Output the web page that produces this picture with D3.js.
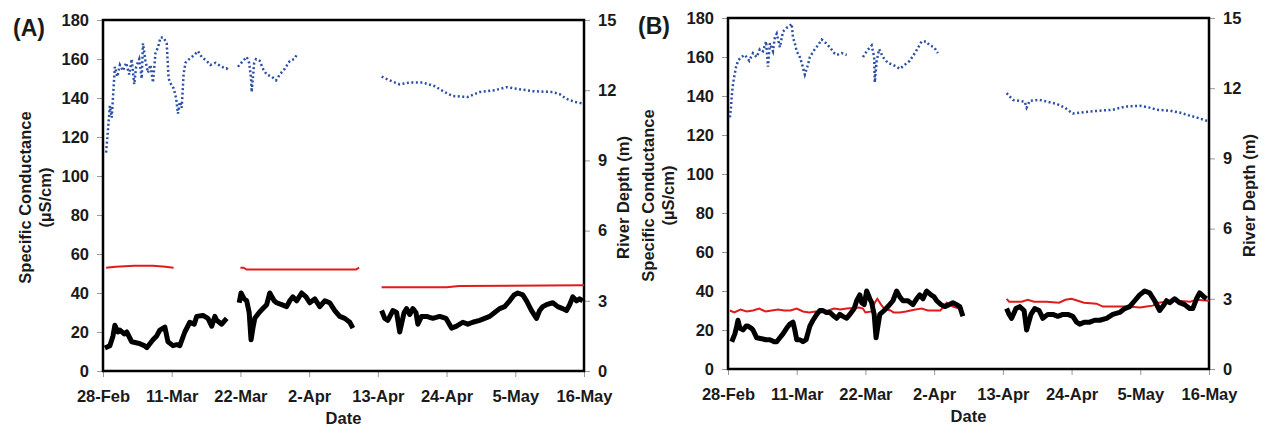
<!DOCTYPE html>
<html>
<head>
<meta charset="utf-8">
<script src="https://cdn.jsdelivr.net/npm/d3@7"></script>
<style>
  body { margin: 0; background: #fff; }
  svg text { font-family: "Liberation Sans", Arial, sans-serif; font-weight: bold; fill: #1a1a1a; }
</style>
</head>
<body>
<svg id="chart" width="1265" height="428"></svg>
<script>
// days counted from 28-Feb, null = gap in the record
const tickLabels = ['28-Feb', '11-Mar', '22-Mar', '2-Apr', '13-Apr', '24-Apr', '5-May', '16-May']
const condTicks = [0, 20, 40, 60, 80, 100, 120, 140, 160, 180]
const depthTicks = [0, 3, 6, 9, 12, 15]

// panel A
const aDepth = [
  [0.5, 9.33], [0.8, 10.33], [1.1, 11.33], [1.4, 10.83], [1.9, 13.0], [2.3, 12.58], [2.7, 13.08], [3.2, 12.83],
  [3.7, 13.17], [4.2, 12.67], [4.6, 13.33], [5.0, 12.25], [5.3, 13.0], [5.8, 13.33], [6.2, 12.5], [6.4, 14.0],
  [6.8, 13.25], [7.2, 12.75], [7.6, 13.08], [8.0, 12.33], [8.4, 13.58], [8.8, 13.83], [9.2, 14.25], [9.7, 14.25],
  [10.2, 14.0], [10.5, 12.5], [10.9, 12.25], [11.3, 12.08], [11.7, 11.67], [12.0, 11.0], [12.3, 11.5], [12.6, 11.25],
  [12.9, 12.67], [13.2, 13.17], [13.8, 13.33], [14.6, 13.5], [15.2, 13.67], [15.8, 13.42], [16.6, 13.25],
  [17.2, 13.08], [18, 13.17], [19, 13.0], [19.8, 12.92], [20, 13.0],
  null,
  [21.6, 13.0], [22.4, 13.25], [23.0, 13.42], [23.4, 13.17], [23.7, 12.5], [23.8, 11.92], [24.2, 13.17],
  [24.5, 13.33], [25.1, 13.25], [25.6, 12.92], [26.2, 12.67], [27.0, 12.58], [27.7, 12.42], [28.3, 12.67],
  [29.1, 12.92], [29.9, 13.25], [30.6, 13.33], [31.0, 13.5],
  null,
  [44.6, 12.58], [45.9, 12.42], [47.5, 12.25], [49.1, 12.33], [51.2, 12.33], [53.1, 12.17], [54.7, 11.92],
  [56, 11.75], [58.4, 11.71], [60.3, 11.92], [62.7, 12.0], [64.6, 12.13], [66.7, 12.04], [68.8, 11.96],
  [72, 11.92], [73.1, 11.83], [74.2, 11.63], [75.5, 11.5], [77, 11.42]
]
const aCondRed = [
  [0.5, 53], [2, 53.5], [5, 54], [8, 54], [10, 53.5], [11.3, 53],
  null,
  [22, 53], [22.5, 53], [23, 52], [40.5, 52], [41, 53],
  null,
  [44.6, 43], [55, 43], [57, 43.6], [77, 44]
]
const aCondBlack = [
  [0.3, 11.8], [1.1, 13], [1.6, 18], [1.9, 23.5], [2.4, 20], [2.7, 21], [3.4, 19], [3.8, 20], [4.6, 15],
  [5.3, 14.5], [5.9, 14], [6.6, 13], [7.0, 12], [7.5, 14], [8.0, 16], [8.6, 18], [9.1, 21], [9.9, 22.5],
  [10.4, 15], [11.2, 13], [11.8, 13.5], [12.3, 13], [13.1, 20], [13.9, 25], [14.6, 24], [15.0, 28],
  [16.0, 28.5], [16.8, 27], [17.4, 23], [17.9, 28], [18.2, 26], [19.0, 24], [19.8, 27],
  null,
  [21.8, 35], [22.1, 40], [22.6, 37], [23.0, 36], [23.4, 30], [23.7, 16], [24.0, 22], [24.3, 27], [25.0, 30],
  [25.6, 32], [26.2, 34], [26.7, 40], [27.4, 36], [27.8, 35], [28.6, 34], [29.4, 33], [29.9, 36], [30.4, 38],
  [31.0, 36], [31.8, 40], [32.5, 38], [33.1, 35], [33.9, 37], [34.7, 33], [35.5, 36], [36.3, 35], [37.1, 31],
  [37.9, 28], [38.7, 27], [39.5, 25], [40.0, 22],
  null,
  [44.6, 31], [45.1, 27], [45.6, 26], [46.4, 31], [47.0, 30], [47.5, 20], [48.2, 30], [48.6, 32], [49.1, 29],
  [49.6, 32], [50.1, 30], [50.4, 24], [51.0, 28], [51.8, 28], [52.8, 27], [53.9, 28], [54.9, 27], [55.8, 22],
  [56.6, 23], [57.6, 25], [58.4, 24], [59.2, 25], [60.3, 26], [61.9, 28], [62.7, 30], [63.5, 32], [64.3, 33],
  [65.1, 36], [65.8, 39], [66.4, 40], [67.2, 39], [67.8, 36], [68.6, 31], [69.4, 27], [69.9, 31], [70.4, 33],
  [71.0, 34], [72.0, 35], [72.8, 33], [73.6, 32], [74.2, 31], [74.7, 34], [75.2, 38], [75.8, 36], [76.3, 37],
  [76.8, 36]
]

// panel B
const bDepth = [
  [0.3, 10.75], [0.5, 11.25], [0.6, 11.67], [0.8, 12.17], [1.0, 12.5], [1.3, 12.92], [1.6, 13.17], [2.1, 13.33],
  [2.7, 13.42], [3.4, 13.17], [4.0, 13.5], [4.6, 13.33], [5.1, 13.67], [5.6, 13.58], [6.1, 14.0], [6.4, 12.92],
  [6.7, 13.92], [7.2, 13.58], [7.5, 14.17], [7.8, 14.33], [8.3, 13.75], [8.8, 14.42], [9.4, 14.58], [9.9, 14.67],
  [10.2, 14.75], [10.4, 14.17], [10.7, 13.92], [11.0, 13.58], [11.5, 13.33], [11.8, 13.08], [12.3, 12.58],
  [12.8, 13.0], [13.1, 13.33], [13.9, 13.67], [14.4, 13.83], [15.0, 14.08], [15.7, 13.92], [16.3, 13.75],
  [17.0, 13.5], [17.4, 13.42], [18.2, 13.5], [19.0, 13.42],
  null,
  [21.6, 13.33], [22.2, 13.58], [23.0, 13.83], [23.4, 13.33], [23.5, 12.25], [23.8, 13.17], [24.2, 13.67],
  [24.8, 13.33], [25.6, 13.08], [26.4, 13.0], [27.5, 12.83], [28.3, 13.0], [29.1, 13.17], [30.1, 13.58],
  [31.0, 14.0], [31.7, 14.0], [32.3, 13.83], [33.0, 13.75], [33.6, 13.5],
  null,
  [44.6, 11.79], [45.6, 11.5], [46.7, 11.46], [47.5, 11.42], [47.8, 11.17], [48.3, 11.46], [49.9, 11.5],
  [51.2, 11.42], [52.6, 11.33], [53.9, 11.17], [55.2, 10.92], [56.6, 10.96], [57.9, 11.0], [59.5, 11.04],
  [61.6, 11.08], [63.5, 11.21], [65.9, 11.25], [67.5, 11.17], [68.6, 11.08], [70.7, 11.04], [72.3, 10.96],
  [73.9, 10.83], [75.0, 10.75], [77, 10.58]
]
const bCondRed = [
  [0.3, 30], [1, 29], [2, 30.5], [3, 29.5], [4, 30], [5, 31], [6, 29.5], [7, 30], [8, 30.5], [9, 30], [10, 30],
  [11, 31], [12, 29.5], [13, 29], [14, 29.5], [15, 29], [16, 30], [17, 31], [18, 30.5], [19, 31], [21, 31.5],
  [21.6, 31], [22, 29], [23, 29.5], [23.5, 34], [23.9, 36], [24.5, 33], [25, 31], [26, 30], [26.5, 29],
  [27.5, 29], [28.5, 29.5], [30, 30.5], [31, 31], [32, 30], [33, 30], [34, 30], [34.5, 32], [35, 34],
  [35.5, 33], [36, 32], [37, 31], [37.6, 31],
  null,
  [44.6, 36], [45, 34.5], [47, 34.5], [48, 35.5], [49, 34.5], [51, 34.5], [53, 34], [54, 35.5], [55, 36],
  [56, 35], [57, 34], [59, 33.5], [60, 32], [62, 32], [64, 32], [66, 31.5], [67, 32], [68, 32.5], [69, 34],
  [70, 34.5], [72, 35], [74, 34.5], [75, 35.5], [77, 35]
]
const bCondBlack = [
  [0.6, 14], [1.1, 18], [1.4, 22], [1.6, 25], [1.9, 21], [2.4, 20], [2.9, 22], [3.2, 22], [3.7, 21], [4.0, 20],
  [4.6, 16], [5.4, 15.5], [6.1, 15], [6.7, 15], [7.4, 14], [7.8, 14], [8.3, 16], [8.8, 18], [9.4, 21], [9.9, 23],
  [10.4, 24], [10.7, 20], [11.0, 15], [11.5, 15], [12.0, 14], [12.5, 15], [13.1, 22], [13.6, 25], [14.2, 28],
  [14.7, 30], [15.2, 30], [15.7, 29], [16.3, 29], [17.0, 27], [17.4, 26], [17.9, 28], [18.4, 27], [19.0, 26],
  [19.5, 28], [20.2, 31], [20.6, 35], [21.1, 38], [21.4, 34], [21.8, 33], [22.2, 40], [22.7, 36], [23.0, 34],
  [23.4, 28], [23.7, 16], [24.0, 22], [24.3, 28], [25.0, 30], [25.6, 32], [26.4, 35], [27.0, 40], [27.5, 37],
  [28.0, 35], [28.8, 35], [29.6, 33], [30.2, 36], [30.7, 38], [31.2, 36], [31.8, 40], [32.5, 38], [33.0, 37],
  [33.4, 35], [34.1, 33], [34.7, 32], [35.4, 33], [36.0, 34], [36.6, 33], [37.1, 32], [37.6, 27],
  null,
  [44.6, 31], [45.0, 28], [45.4, 26], [46.1, 31], [46.7, 32], [47.4, 30], [47.8, 20], [48.5, 28], [49.1, 31],
  [49.8, 30], [50.4, 26], [51.2, 28], [52.0, 28], [52.8, 27], [53.6, 28], [54.4, 28], [55.2, 27], [55.8, 24],
  [56.3, 23], [57.1, 24], [57.9, 24], [58.7, 25], [59.5, 25], [60.6, 26], [61.6, 28], [62.7, 29], [63.5, 31],
  [64.3, 32], [65.1, 35], [65.9, 38], [66.7, 40], [67.5, 39], [68.3, 35], [69.1, 30], [69.8, 33], [70.2, 35],
  [70.7, 34], [71.5, 36], [72.3, 34], [73.1, 33], [73.9, 31], [74.4, 31], [75.0, 36], [75.5, 39], [76.2, 37],
  [76.6, 36]
]

const startDate = new Date(2006, 1, 28)
const dayToDate = d => new Date(startDate.getTime() + d * 864e5)

let svg = d3.select('#chart')

let drawPanel = function (opts) {
    let width = 481, height = 351

    let g = svg.append('g')
        .attr('transform', 'translate(' + opts.left + ',' + opts.top + ')')

    let x = d3.scaleTime()
        .domain([startDate, dayToDate(77)])
        .range([0, width])
    let yCond = d3.scaleLinear().domain([0, 180]).range([height, 0])
    let yDepth = d3.scaleLinear().domain([0, 15]).range([height, 0])

    let tickDates = tickLabels.map((t, i) => dayToDate(i * 11))

    // axes
    let xAxis = g.append('g')
        .attr('transform', 'translate(0,' + height + ')')
        .call(d3.axisBottom(x).tickValues(tickDates).tickSize(6).tickPadding(13)
            .tickFormat((d, i) => tickLabels[i]))
    let yLeft = g.append('g')
        .call(d3.axisLeft(yCond).tickValues(condTicks).tickSize(6).tickPadding(8))
    let yRight = g.append('g')
        .attr('transform', 'translate(' + width + ',0)')
        .call(d3.axisRight(yDepth).tickValues(depthTicks).tickSize(6).tickPadding(8))

    ;[xAxis, yLeft, yRight].forEach(a => {
        a.select('.domain').remove()
        a.selectAll('.tick line').attr('stroke', '#999').attr('stroke-width', 1)
        a.selectAll('.tick text').style('font-size', '16.5px')
    })

    // frame
    g.append('rect')
        .attr('width', width)
        .attr('height', height)
        .attr('fill', 'none')
        .attr('stroke', '#000')
        .attr('stroke-width', 2.5)

    let condLine = d3.line()
        .defined(d => d !== null)
        .x(d => x(dayToDate(d[0])))
        .y(d => yCond(d[1]))
    let depthLine = d3.line()
        .defined(d => d !== null)
        .x(d => x(dayToDate(d[0])))
        .y(d => yDepth(d[1]))

    g.append('path')
        .datum(opts.depth)
        .attr('d', depthLine)
        .attr('fill', 'none')
        .attr('stroke', '#2b4fa6')
        .attr('stroke-width', 2.5)
        .attr('stroke-dasharray', '2,2.5')

    g.append('path')
        .datum(opts.red)
        .attr('d', condLine)
        .attr('fill', 'none')
        .attr('stroke', '#e01b1b')
        .attr('stroke-width', 2)

    g.append('path')
        .datum(opts.black)
        .attr('d', condLine)
        .attr('fill', 'none')
        .attr('stroke', '#000')
        .attr('stroke-width', 5)
        .attr('stroke-linejoin', 'round')

    // titles
    g.append('text')
        .attr('x', width / 2)
        .attr('y', height + 53)
        .attr('text-anchor', 'middle')
        .style('font-size', '16.5px')
        .text('Date')

    let leftTitle = g.append('text')
        .attr('transform', 'translate(' + opts.leftTitleX + ',' + (height / 2 + 2) + ') rotate(-90)')
        .attr('text-anchor', 'middle')
        .style('font-size', '16.5px')
    leftTitle.append('tspan').attr('x', 0).attr('dy', 0).text('Specific Conductance')
    leftTitle.append('tspan').attr('x', 0).attr('dy', 20).text('(µS/cm)')

    g.append('text')
        .attr('transform', 'translate(' + opts.rightTitleX + ',' + (height / 2 + 2) + ') rotate(-90)')
        .attr('text-anchor', 'middle')
        .style('font-size', '16.5px')
        .text('River Depth (m)')

    g.append('text')
        .attr('x', opts.labelX)
        .attr('y', 16)
        .style('font-size', '23px')
        .text(opts.label)
}

drawPanel({
    left: 103, top: 20, label: '(A)', labelX: -90,
    leftTitleX: -72, rightTitleX: 526,
    depth: aDepth, red: aCondRed, black: aCondBlack
})
drawPanel({
    left: 728, top: 18, label: '(B)', labelX: -90,
    leftTitleX: -74, rightTitleX: 527,
    depth: bDepth, red: bCondRed, black: bCondBlack
})
</script>
</body>
</html>
